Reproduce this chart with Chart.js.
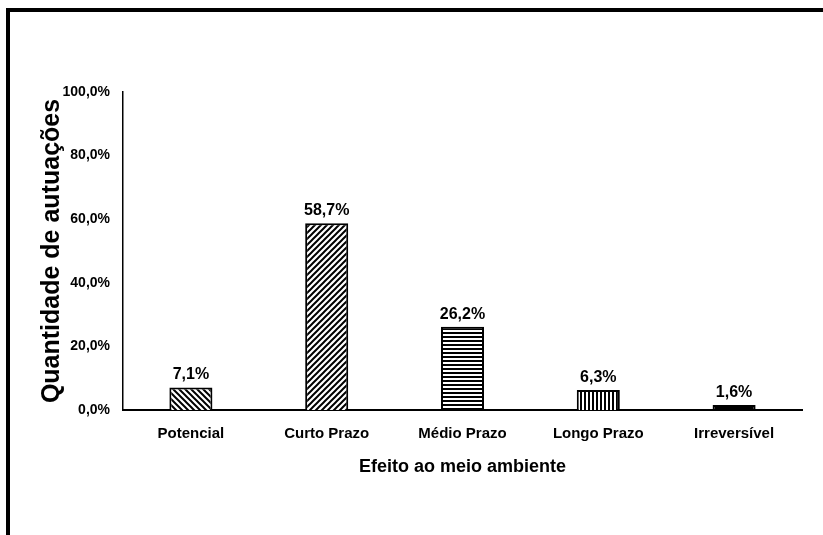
<!DOCTYPE html>
<html>
<head>
<meta charset="utf-8">
<script src="https://cdn.jsdelivr.net/npm/chart.js@4.4.1/dist/chart.umd.min.js"></script>
<style>
  html, body { margin: 0; padding: 0; background: #fff; overflow: hidden; }
  #moldura { position: absolute; left: 6px; top: 8px; width: 1000px; height: 1000px;
             border-left: 4px solid #000; border-top: 4px solid #000; }
  #grafico { position: absolute; left: 0; top: 0; }
</style>
</head>
<body>
<div id="moldura"></div>
<canvas id="grafico" width="823" height="535"></canvas>
<script>
// Dados do gráfico
const categorias = ['Potencial', 'Curto Prazo', 'Médio Prazo', 'Longo Prazo', 'Irreversível'];
const valores = [7.1, 58.7, 26.2, 6.3, 1.6];
const ticksY = [0, 20, 40, 60, 80, 100];

const fonte = "'Liberation Sans', Arial, sans-serif";

// Formata número no padrão brasileiro (vírgula)
function pct(v) {
    return v.toFixed(1).replace('.', ',') + '%';
}

// Cria hachuras (padrões) para cada barra
function hachura(tipo) {
    const c = document.createElement('canvas');
    const s = tipo === 'diag1' || tipo === 'diag2' ? 6 : 4;
    c.width = s; c.height = s;
    const g = c.getContext('2d');
    g.fillStyle = '#fff';
    g.fillRect(0, 0, s, s);
    g.fillStyle = '#000';
    g.strokeStyle = '#000';
    g.lineWidth = 2;
    g.beginPath();
    if (tipo === 'diag1') { // "\"
        g.moveTo(0, 0); g.lineTo(s, s);
        g.moveTo(-2, s - 2); g.lineTo(2, s + 2);
        g.moveTo(s - 2, -2); g.lineTo(s + 2, 2);
        g.stroke();
    } else if (tipo === 'diag2') { // "/"
        g.moveTo(0, s); g.lineTo(s, 0);
        g.moveTo(-2, 2); g.lineTo(2, -2);
        g.moveTo(s - 2, s + 2); g.lineTo(s + 2, s - 2);
        g.stroke();
    } else if (tipo === 'horiz') {
        g.fillRect(0, 0, s, 2);
    } else if (tipo === 'vert') {
        g.fillRect(0, 0, 2, s);
    }
    return document.getElementById('grafico').getContext('2d').createPattern(c, 'repeat');
}

const preenchimentos = [hachura('diag1'), hachura('diag2'), hachura('horiz'), hachura('vert'), '#000'];

// Rótulos de valor acima das barras
const rotulos = {
    id: 'rotulos',
    afterDatasetsDraw(chart) {
        const ctx = chart.ctx;
        const meta = chart.getDatasetMeta(0);
        ctx.save();
        ctx.font = 'bold 16px ' + fonte;
        ctx.fillStyle = '#000';
        ctx.textAlign = 'center';
        ctx.textBaseline = 'alphabetic';
        meta.data.forEach((bar, i) => {
            ctx.fillText(pct(valores[i]), bar.x, bar.y - 8);
        });
        ctx.restore();
    }
};

new Chart(document.getElementById('grafico'), {
    type: 'bar',
    data: {
        labels: categorias,
        datasets: [{
            data: valores,
            backgroundColor: preenchimentos,
            borderColor: '#000',
            borderWidth: 2,
            barPercentage: 0.317,
            categoryPercentage: 1
        }]
    },
    options: {
        responsive: false,
        animation: false,
        layout: { padding: { left: 0, top: 92, right: 21, bottom: 0 } },
        plugins: { legend: { display: false }, tooltip: { enabled: false } },
        scales: {
            x: {
                grid: { display: false, drawTicks: false },
                border: { display: true, color: '#000', width: 2 },
                ticks: { color: '#000', padding: 15, font: { family: fonte, size: 15, weight: 'bold' } },
                title: {
                    display: true, text: 'Efeito ao meio ambiente', color: '#000',
                    font: { family: fonte, size: 18, weight: 'bold' },
                    padding: { top: 0, bottom: 57 }
                },
                afterFit(scale) { scale.height = 125; }
            },
            y: {
                min: 0, max: 100,
                afterBuildTicks(scale) { scale.ticks = ticksY.map(v => ({ value: v })); },
                grid: { display: false, drawTicks: false },
                border: { display: true, color: '#000', width: 1.5 },
                ticks: {
                    color: '#000', padding: 13,
                    font: { family: fonte, size: 14, weight: 'bold' },
                    callback: v => pct(v)
                },
                title: {
                    display: true, text: 'Quantidade de autuações', color: '#000',
                    font: { family: fonte, size: 25, weight: 'bold' },
                    padding: { top: 37, bottom: 0 }
                },
                afterFit(scale) { scale.width = 123; }
            }
        }
    },
    plugins: [rotulos]
});
</script>
</body>
</html>
